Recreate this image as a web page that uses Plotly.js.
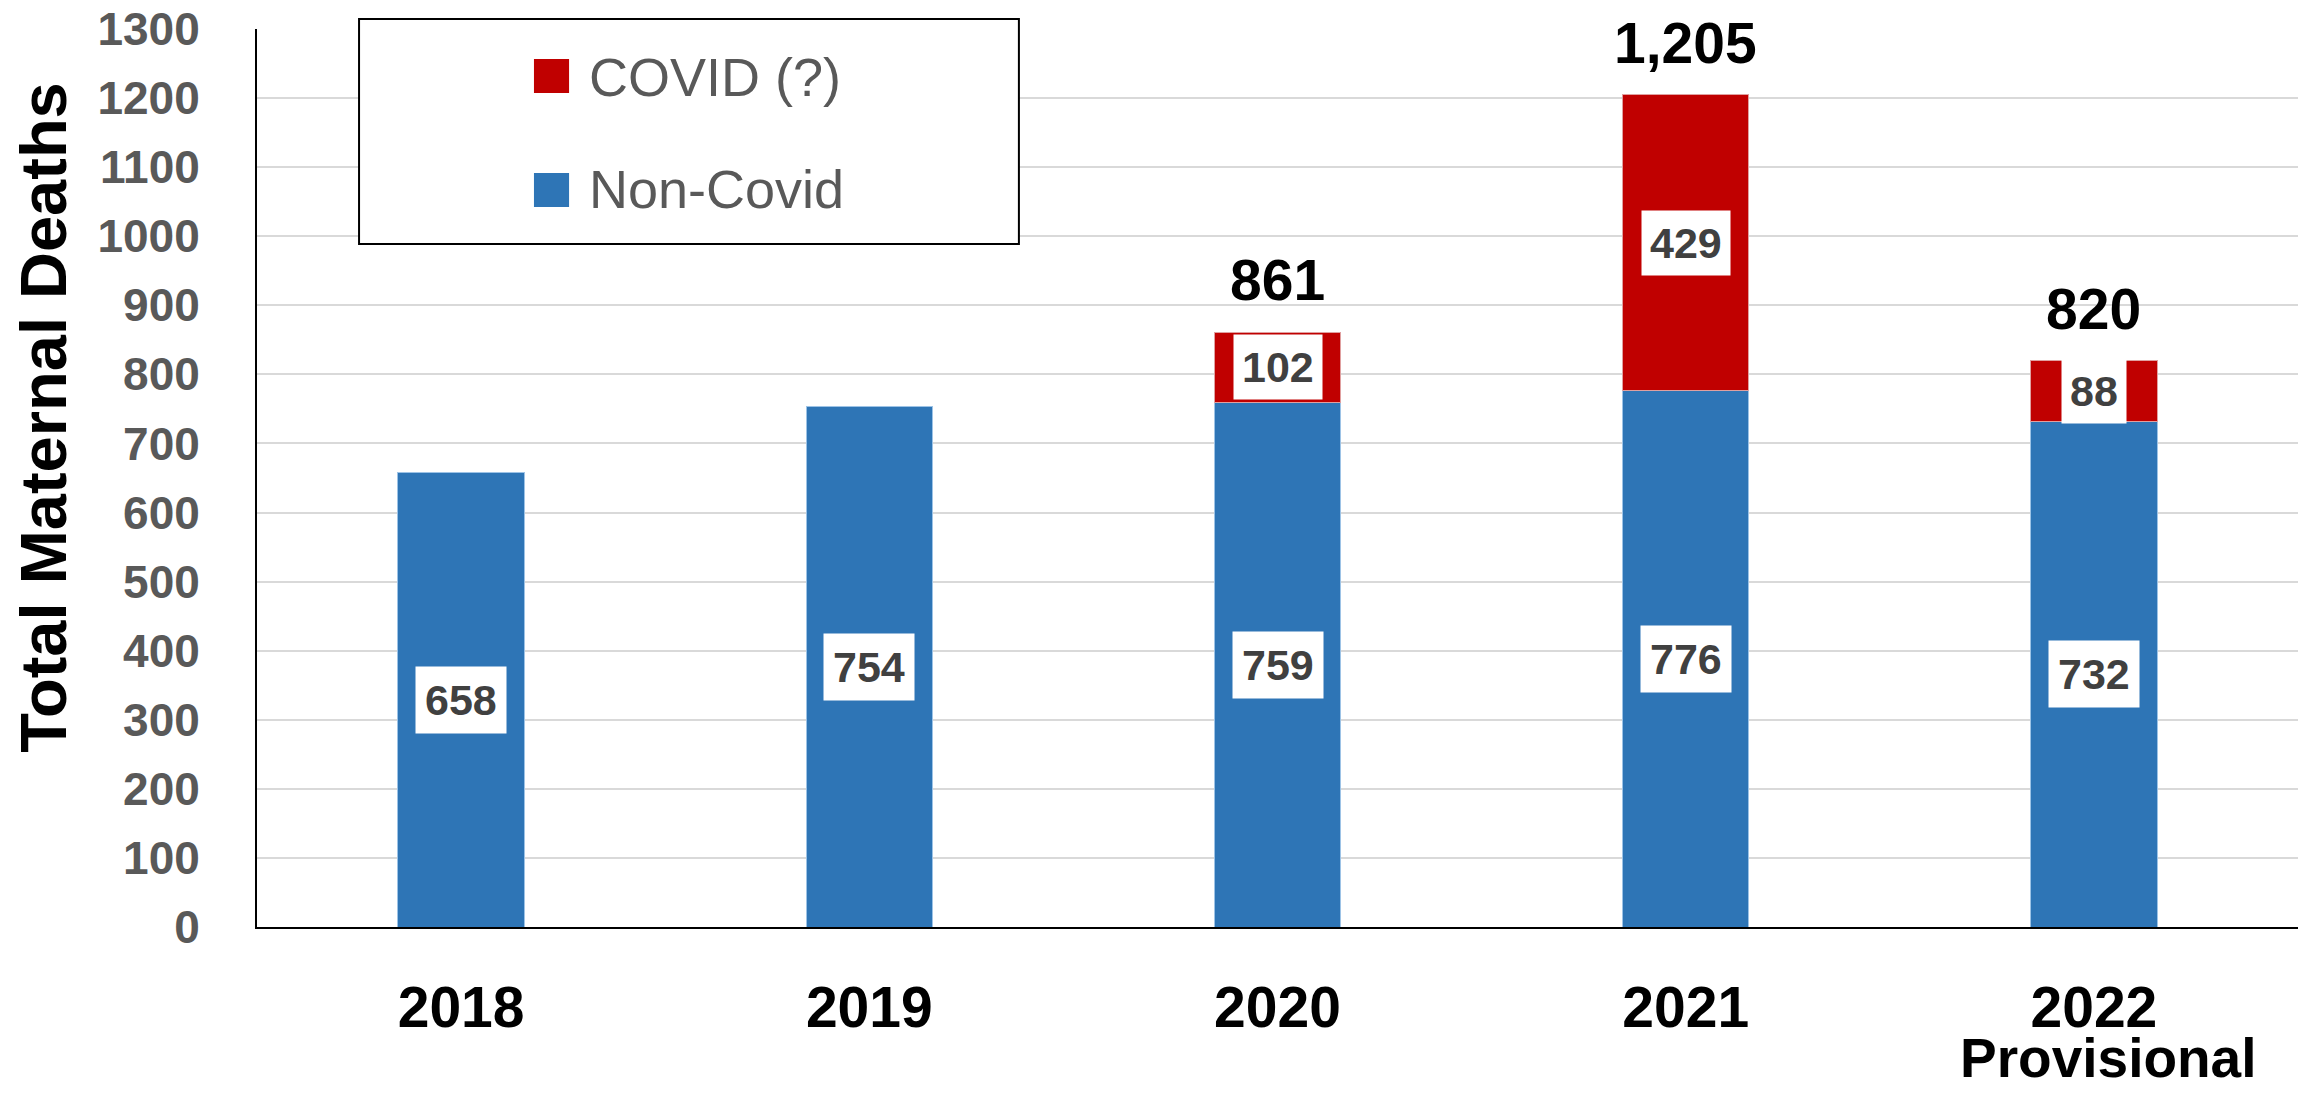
<!DOCTYPE html>
<html>
<head>
<meta charset="utf-8">
<script src="https://cdn.plot.ly/plotly-3.0.1.min.js"></script>
<style>
  html, body { margin: 0; padding: 0; background: #fff; }
  #myDiv { width: 2318px; height: 1097px; }
</style>
</head>
<body>
<div id="myDiv"></div>
<script>
var years = ['2018', '2019', '2020', '2021', '2022'];
var nonCovid = [658, 754, 759, 776, 732];
var covid = [null, null, 102, 429, 88];
var seriesNames = ['COVID (?)', 'Non-Covid'];
var yTicks = [0, 100, 200, 300, 400, 500, 600, 700, 800, 900, 1000, 1100, 1200, 1300];

var blue = '#2E75B6';
var red = '#C00000';
var fam = '"Liberation Sans", Arial, sans-serif';

var trace1 = {
    x: years,
    y: nonCovid,
    type: 'bar',
    name: seriesNames[1],
    marker: {color: blue, line: {color: '#9DC3E6', width: 1}},
    hoverinfo: 'y',
    showlegend: false
};

var trace2 = {
    x: years,
    y: covid,
    type: 'bar',
    name: seriesNames[0],
    marker: {color: red, line: {color: '#E0A0A0', width: 1}},
    hoverinfo: 'y',
    showlegend: false
};

var annotations = [];

// white value boxes inside the bars (x as category index)
years.forEach(function (yr, i) {
    annotations.push({
        x: i, y: nonCovid[i] / 2, xref: 'x', yref: 'y',
        xanchor: 'center', yanchor: 'middle',
        text: String(nonCovid[i]), showarrow: false,
        bgcolor: 'white', borderpad: 9,
        font: {family: fam, size: 43, weight: 'bold', color: '#404040'}
    });
    if (covid[i] != null) {
        annotations.push({
            x: i, y: nonCovid[i] + covid[i] / 2, xref: 'x', yref: 'y',
            xanchor: 'center', yanchor: 'middle',
            text: String(covid[i]), showarrow: false,
            bgcolor: 'white', borderpad: 8,
            font: {family: fam, size: 43, weight: 'bold', color: '#404040'}
        });
        var total = nonCovid[i] + covid[i];
        annotations.push({
            x: i, y: total, xref: 'x', yref: 'y',
            xanchor: 'center', yanchor: 'middle', yshift: 52,
            text: total.toLocaleString('en-US'), showarrow: false,
            font: {family: fam, size: 57, weight: 'bold', color: '#000'}
        });
    }
});

// second line under the last category
annotations.push({
    x: 4, y: -0.146, xref: 'x', yref: 'paper',
    xanchor: 'center', yanchor: 'middle', xshift: 14,
    text: 'Provisional', showarrow: false,
    font: {family: fam, size: 55, weight: 'bold', color: '#000'}
});

// y axis title
annotations.push({
    x: -0.1044, y: 0.568, xref: 'paper', yref: 'paper',
    xanchor: 'center', yanchor: 'middle',
    text: 'Total Maternal Deaths', textangle: -90, showarrow: false,
    font: {family: fam, size: 65, weight: 'bold', color: '#000'}
});

// legend text
annotations.push({
    x: 0.1617, y: 0.9465, xref: 'paper', yref: 'paper',
    xanchor: 'left', yanchor: 'middle',
    text: seriesNames[0], showarrow: false,
    font: {family: fam, size: 54, color: '#595959'}
});
annotations.push({
    x: 0.1617, y: 0.8218, xref: 'paper', yref: 'paper',
    xanchor: 'left', yanchor: 'middle',
    text: seriesNames[1], showarrow: false,
    font: {family: fam, size: 54, color: '#595959'}
});

var shapes = [
    {type: 'rect', xref: 'paper', yref: 'paper', x0: 0.05, x1: 0.3733, y0: 0.7606, y1: 1.0111,
     line: {color: '#000', width: 2}, fillcolor: 'white', layer: 'above'},
    {type: 'rect', xref: 'paper', yref: 'paper', x0: 0.1357, x1: 0.1529, y0: 0.9287, y1: 0.9666,
     line: {width: 0}, fillcolor: red, layer: 'above'},
    {type: 'rect', xref: 'paper', yref: 'paper', x0: 0.1357, x1: 0.1529, y0: 0.8018, y1: 0.8396,
     line: {width: 0}, fillcolor: blue, layer: 'above'}
];

var layout = {
    width: 2318,
    height: 1097,
    margin: {l: 257, r: 20, t: 29, b: 170},
    paper_bgcolor: 'white',
    plot_bgcolor: 'white',
    barmode: 'stack',
    bargap: 0.69,
    showlegend: false,
    font: {family: fam},
    xaxis: {
        type: 'category',
        range: [-0.5, 4.5],
        showgrid: false,
        showline: true, linecolor: '#000', linewidth: 2,
        ticks: '', ticklabelstandoff: 30,
        tickfont: {family: fam, size: 57, weight: 'bold', color: '#000'}
    },
    yaxis: {
        range: [0, 1300],
        tickvals: yTicks,
        showgrid: true, gridcolor: '#D9D9D9', gridwidth: 2,
        zeroline: false,
        showline: true, linecolor: '#000', linewidth: 2,
        ticks: '', ticklabelstandoff: 46,
        tickfont: {family: fam, size: 46, weight: 'bold', color: '#595959'}
    },
    annotations: annotations,
    shapes: shapes
};

Plotly.newPlot('myDiv', [trace1, trace2], layout, {staticPlot: true});
</script>
</body>
</html>
